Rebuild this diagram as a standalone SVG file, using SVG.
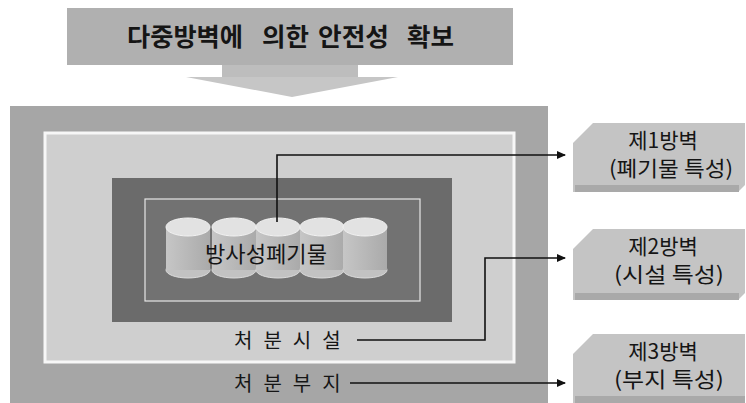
<svg xmlns="http://www.w3.org/2000/svg" width="746" height="403" viewBox="0 0 746 403">
  <defs>
    <style>
      .kr { font-family: "Noto Sans CJK KR", "Noto Sans", sans-serif; fill: #151515; }
      .title { font-size: 25px; font-weight: 700; }
      .lbl { font-size: 20px; letter-spacing: 11px; }
      .box-t { font-size: 21px; text-anchor: middle; }
      .box { fill: #c4c4c4; }
      .box-foot { fill: #a9a9a9; }
      .wire { fill: none; stroke: #111; stroke-width: 1.6; }
      .cyl-body { fill: url(#cylShade); }
      .cyl-top { fill: #e2e2e2; stroke: #f2f2f2; stroke-width: 1; }
      .cyl-bot { fill: #c2c2c2; stroke: #dadada; stroke-width: 1; }
    </style>
    <linearGradient id="cylShade" x1="0" y1="0" x2="1" y2="0">
      <stop offset="0" stop-color="#c6c6c6"/>
      <stop offset="0.5" stop-color="#b8b8b8"/>
      <stop offset="1" stop-color="#aaaaaa"/>
    </linearGradient>
    <marker id="arrow" markerWidth="9" markerHeight="8" refX="8" refY="4" orient="auto" markerUnits="userSpaceOnUse">
      <path d="M0,0 L9,4 L0,8 z" fill="#111"/>
    </marker>
  </defs>

  <!-- heading banner with downward arrow -->
  <g id="banner">
    <rect x="67" y="8" width="446" height="57" fill="#b0b0b0"/>
    <rect x="222" y="65" width="136" height="12" fill="#bdbdbd"/>
    <polygon points="186,77 398,77 292,97" fill="#c6c6c6"/>
    <text class="kr title" x="127" y="46" textLength="116" lengthAdjust="spacingAndGlyphs">다중방벽에</text>
    <text class="kr title" x="262" y="46" textLength="47" lengthAdjust="spacingAndGlyphs">의한</text>
    <text class="kr title" x="318" y="46" textLength="71" lengthAdjust="spacingAndGlyphs">안전성</text>
    <text class="kr title" x="407" y="46" textLength="47" lengthAdjust="spacingAndGlyphs">확보</text>
  </g>

  <!-- disposal site (outermost barrier) -->
  <g id="site">
    <rect x="10" y="106" width="538" height="297" fill="#a6a6a6"/>
  </g>

  <!-- disposal facility -->
  <g id="facility">
    <rect x="45" y="133" width="469" height="229" fill="#cfcfcf" stroke="#f7f7f7" stroke-width="3"/>
  </g>

  <!-- engineered barrier around waste -->
  <g id="barrier">
    <rect x="112" y="178" width="340" height="144" fill="#6b6b6b"/>
    <rect x="145" y="199" width="275" height="102" fill="#727272" stroke="#e6e6e6" stroke-width="1.2"/>
  </g>

  <!-- waste drums -->
  <g id="waste">
    <g>
      <ellipse class="cyl-bot" cx="188" cy="270" rx="22" ry="8"/>
      <rect class="cyl-body" x="166" y="227" width="44" height="43"/>
      <ellipse class="cyl-top" cx="188" cy="227" rx="22" ry="9"/>
    </g>
    <g>
      <ellipse class="cyl-bot" cx="234" cy="270" rx="22" ry="8"/>
      <rect class="cyl-body" x="212" y="227" width="44" height="43"/>
      <ellipse class="cyl-top" cx="234" cy="227" rx="22" ry="9"/>
    </g>
    <g>
      <ellipse class="cyl-bot" cx="278" cy="270" rx="22" ry="8"/>
      <rect class="cyl-body" x="256" y="227" width="44" height="43"/>
      <ellipse class="cyl-top" cx="278" cy="227" rx="22" ry="9"/>
    </g>
    <g>
      <ellipse class="cyl-bot" cx="322" cy="270" rx="22" ry="8"/>
      <rect class="cyl-body" x="300" y="227" width="44" height="43"/>
      <ellipse class="cyl-top" cx="322" cy="227" rx="22" ry="9"/>
    </g>
    <g>
      <ellipse class="cyl-bot" cx="365" cy="270" rx="22" ry="8"/>
      <rect class="cyl-body" x="343" y="227" width="44" height="43"/>
      <ellipse class="cyl-top" cx="365" cy="227" rx="22" ry="9"/>
    </g>
    <text class="kr" x="266" y="262" font-size="22" text-anchor="middle" textLength="122" lengthAdjust="spacingAndGlyphs">방사성폐기물</text>
  </g>

  <g id="label-facility">
    <text class="kr lbl" x="234" y="348">처분시설</text>
  </g>
  <g id="label-site">
    <text class="kr lbl" x="234" y="391">처분부지</text>
  </g>

  <!-- barrier descriptions -->
  <g id="barrier-1">
    <polygon class="box" points="593,123 745,123 745,185 738,192 573,192 573,143"/>
    <rect class="box-foot" x="575" y="185" width="164" height="7"/>
    <text class="kr box-t" x="663" y="148">제1방벽</text>
    <text class="kr box-t" x="671" y="176" textLength="124" lengthAdjust="spacingAndGlyphs">(폐기물  특성)</text>
  </g>
  <g id="barrier-2">
    <polygon class="box" points="593,229 745,229 745,293 738,300 573,300 573,249"/>
    <rect class="box-foot" x="575" y="293" width="164" height="7"/>
    <text class="kr box-t" x="663" y="254">제2방벽</text>
    <text class="kr box-t" x="669" y="282" textLength="110" lengthAdjust="spacingAndGlyphs">(시설  특성)</text>
  </g>
  <g id="barrier-3">
    <polygon class="box" points="593,334 745,334 745,403 573,403 573,354"/>
    <rect class="box-foot" x="575" y="396" width="170" height="7"/>
    <text class="kr box-t" x="663" y="359">제3방벽</text>
    <text class="kr box-t" x="669" y="387" textLength="110" lengthAdjust="spacingAndGlyphs">(부지  특성)</text>
  </g>

  <!-- leader lines -->
  <g id="connectors">
    <path class="wire" d="M277,222 V155 H565" marker-end="url(#arrow)"/>
    <path class="wire" d="M357,340 H485 V258 H565" marker-end="url(#arrow)"/>
    <path class="wire" d="M350,383 H565" marker-end="url(#arrow)"/>
  </g>
</svg>
